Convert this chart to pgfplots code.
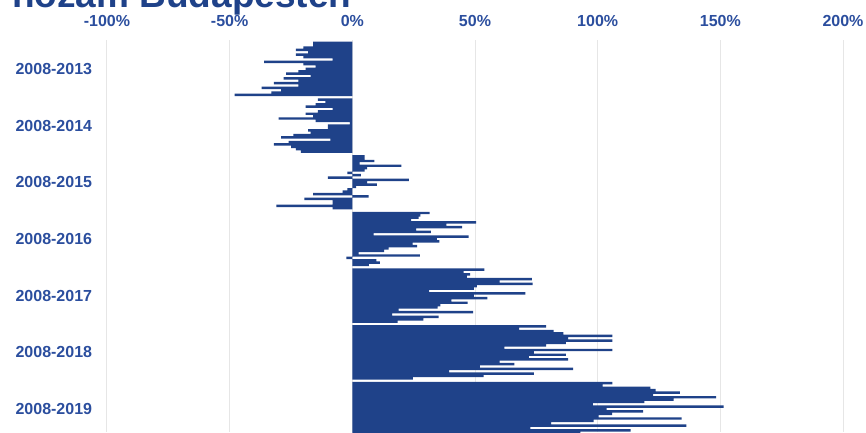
\documentclass[border=0pt]{standalone}
\usepackage{fontspec}
\setmainfont{Liberation Sans}
\usepackage{pgfplots}
\pgfplotsset{compat=1.18}
\definecolor{barblue}{HTML}{1F4289}
\definecolor{txtblue}{HTML}{2B4E9E}
\definecolor{gridgray}{HTML}{E6E6E6}
\begin{document}
\begin{tikzpicture}
\begin{axis}[
  at={(0pt,0pt)}, anchor=south west,
  scale only axis, width=736pt, height=392pt,
  xmin=-100, xmax=200, ymin=-1.22, ymax=164.71, y dir=reverse,
  axis line style={draw=none},
  major tick length=0pt,
  xtick={-100,-50,0,50,100,150,200},
  xticklabels={-100\%,-50\%,0\%,50\%,100\%,150\%,200\%},
  xticklabel pos=upper,
  xticklabel style={anchor=base, yshift=13.3pt, inner sep=0pt, font=\fontsize{16}{18}\selectfont\bfseries, text=txtblue},
  ytick={11,35,59,83,107,131,155},
  yticklabels={2008-2013,2008-2014,2008-2015,2008-2016,2008-2017,2008-2018,2008-2019},
  yticklabel style={anchor=east, xshift=-14.7pt, inner sep=0pt, font=\fontsize{16}{18}\selectfont\bfseries, text=txtblue},
  xmajorgrids, ymajorgrids=false,
  grid style={gridgray, line width=1pt},
]
\addplot[xbar, bar shift=0pt, bar width=1.04, fill=barblue, draw=none] coordinates {
(-16,0) (-16,1) (-20,2) (-23,3) (-18,4) (-23,5) (-20,6) (-8,7) (-36,8) (-20,9) (-15,10) (-19,11) (-22,12) (-27,13) (-17,14) (-28,15) (-22,16) (-32,17) (-22,18) (-37,19) (-29,20) (-33,21) (-48,22)};
\addplot[xbar, bar shift=0pt, bar width=1.04, fill=barblue, draw=none] coordinates {
(-14,24) (-11,25) (-15,26) (-19,27) (-8,28) (-14,29) (-19,30) (-16,31) (-30,32) (-15,33) (-1,34) (-10,35) (-10,36) (-18,37) (-17,38) (-24,39) (-29,40) (-9,41) (-26,42) (-32,43) (-25,44) (-23,45) (-21,46)};
\addplot[xbar, bar shift=0pt, bar width=1.04, fill=barblue, draw=none] coordinates {
(5,48) (5,49) (9,50) (3,51) (20,52) (6,53) (5,54) (-2,55) (3.5,56) (-10,57) (23,58) (6,59) (10,60) (1.5,61) (-2,62) (-4,63) (-16,64) (6.6,65) (-19.5,66) (-8,67) (-8,68) (-31,69) (-8,70)};
\addplot[xbar, bar shift=0pt, bar width=1.04, fill=barblue, draw=none] coordinates {
(31.5,72) (27.7,73) (27,74) (24,75) (50.5,76) (38.3,77) (44.7,78) (26,79) (32,80) (8.7,81) (47.4,82) (34.5,83) (35.5,84) (24.6,85) (26.4,86) (14.8,87) (13,88) (2.6,89) (27.5,90) (-2.4,91) (9.8,92) (11.2,93) (6.7,94)};
\addplot[xbar, bar shift=0pt, bar width=1.04, fill=barblue, draw=none] coordinates {
(53.8,96) (45.4,97) (48,98) (46.7,99) (73.2,100) (60,101) (73.5,102) (50.8,103) (49.5,104) (31.3,105) (70.5,106) (49.5,107) (55,108) (40.4,109) (47,110) (35.9,111) (34.8,112) (18.9,113) (49.2,114) (16.2,115) (35.2,116) (29,117) (18.5,118)};
\addplot[xbar, bar shift=0pt, bar width=1.04, fill=barblue, draw=none] coordinates {
(79,120) (68,121) (82,122) (86,123) (106,124) (88,125) (106,126) (87,127) (79,128) (62,129) (106,130) (74,131) (87,132) (72,133) (88,134) (60,135) (66,136) (52,137) (90,138) (39.5,139) (74,140) (53.5,141) (24.7,142)};
\addplot[xbar, bar shift=0pt, bar width=1.04, fill=barblue, draw=none] coordinates {
(106,144) (102,145) (121.5,146) (123.6,147) (133.5,148) (122.6,149) (148.3,150) (131,151) (119,152) (98,153) (151.3,154) (103.6,155) (118.5,156) (105.9,157) (100.4,158) (134.2,159) (98.4,160) (81,161) (136.2,162) (72.6,163) (113.4,164) (93,165) (90,166)};
\end{axis}
\node[anchor=base west, inner sep=0pt, font=\fontsize{37}{40}\selectfont\bfseries, text=barblue] at (-95pt,424pt) {hozam Budapesten};
\pgfresetboundingbox
\path[use as bounding box] (-107pt,0pt) rectangle (759pt,432pt);
\end{tikzpicture}
\end{document}
